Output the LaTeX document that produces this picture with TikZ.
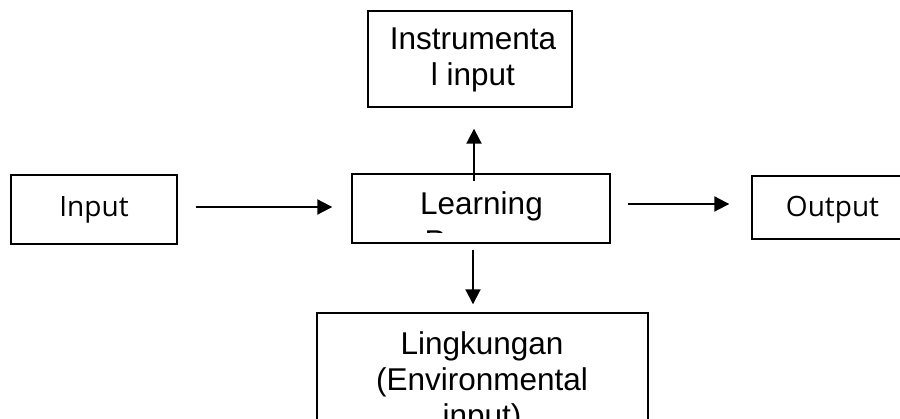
\documentclass[tikz,border=0pt]{standalone}
\usepackage{fontspec}
\setmainfont{Liberation Sans}
\newfontfamily\segoe{Open Sans}
\usetikzlibrary{arrows.meta}
\begin{document}
\begin{tikzpicture}[x=1pt,y=-1pt,
  box/.style={draw=black, line width=1.4pt, inner sep=0pt, fill=white},
  lbl/.style={font=\fontsize{31.5}{36}\selectfont, inner sep=0pt, anchor=base},
  sego/.style={font=\segoe\fontsize{28}{33}\selectfont, inner sep=0pt, anchor=base},
  arr/.style={line width=2pt, -{Triangle[length=15pt,width=15pt]}}]
\clip (0,0) rectangle (900,419);
\fill[white] (0,0) rectangle (900,419);
% boxes
\node[box, minimum width=166pt, minimum height=69pt] (inp) at (94,209.5) {};
\node[box, minimum width=258pt, minimum height=69pt] (learn) at (481,208.5) {};
\node[box, minimum width=161pt, minimum height=63pt] (out) at (832.5,207.5) {};
\node[box, minimum width=204pt, minimum height=96pt] (instr) at (470,59) {};
\node[box, minimum width=331pt, minimum height=130pt] (env) at (482.5,378) {};
% texts
\node[sego] (inpT) at (94,217) {Input};
\node[sego] (outT) at (832.5,217) {Output};
\node[lbl] (instrT1) at (473,50) {Instrumenta};
\node[lbl] (instrT2) at (473,86) {l input};
\begin{scope}
  \clip ([yshift=11pt]learn.south west) rectangle (learn.north east);
  \node[lbl] (learnT1) at (481.5,215) {Learning};
  \node[lbl] (learnT2) at (481.5,252.5) {Process};
\end{scope}
\node[lbl] (envT1) at (482,355) {Lingkungan};
\node[lbl] (envT2) at (482,391) {(Environmental};
\node[lbl] (envT3) at (482,426.5) {input)};
% connectors
\draw[arr] ([xshift=18pt,yshift=2.5pt]inp.east) -- ([xshift=-19pt,yshift=1.5pt]learn.west);
\draw[arr] ([xshift=17pt,yshift=4.5pt]learn.east) -- ([xshift=-22pt,yshift=3.5pt]out.west);
\draw[arr] ([xshift=-7pt,yshift=-8pt]learn.north) -- ([xshift=4pt,yshift=-21pt]instr.south);
\draw[arr] ([xshift=-8pt,yshift=-6pt]learn.south) -- ([xshift=-9.5pt,yshift=8pt]env.north);
\end{tikzpicture}
\end{document}
